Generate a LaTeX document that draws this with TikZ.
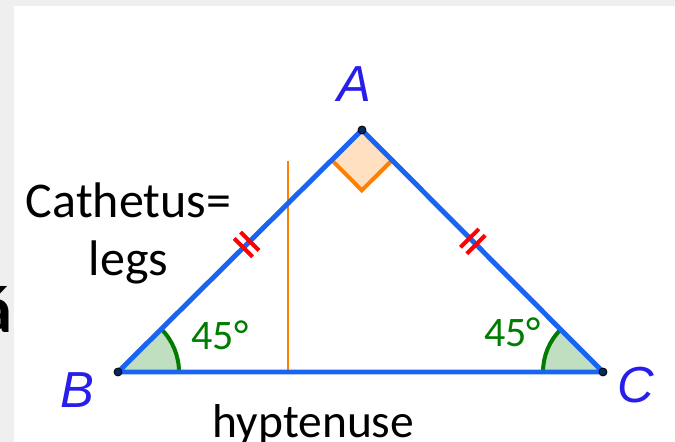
\documentclass[tikz,border=0pt]{standalone}
\usepackage{fontspec}
\setmainfont{Carlito}
\newfontfamily\geofont{Liberation Sans}
\definecolor{legBlue}{RGB}{25,100,240}
\definecolor{labelBlue}{RGB}{40,30,235}
\definecolor{angGreen}{RGB}{0,125,0}
\definecolor{angFill}{RGB}{192,222,192}
\definecolor{rightOrange}{RGB}{255,128,0}
\definecolor{rightFill}{RGB}{255,224,192}
\definecolor{frameGray}{RGB}{239,239,239}
\usetikzlibrary{calc}

\begin{document}
\begin{tikzpicture}[
      x=0.75pt, y=0.75pt,
      every node/.style={inner sep=0pt, outer sep=0pt},
      side/.style={draw=legBlue, line width=3.7pt, line join=round},
      pt/.style={circle, draw=black, fill=legBlue!40!black, line width=0.6pt, minimum size=6pt},
      vlabel/.style={font=\geofont\itshape\fontsize{38}{40}\selectfont, text=labelBlue, anchor=base},
      angfill/.style={fill=angFill},
      angline/.style={draw=angGreen, line width=3pt},
      anglabel/.style={font=\fontsize{31.5}{33}\selectfont, text=angGreen, anchor=base},
      rightbox/.style={draw=rightOrange, fill=rightFill, line width=3pt, line join=miter},
      tickmark/.style={draw=red, line width=3pt},
      note/.style={font=\fontsize{37.5}{43.5}\selectfont, align=center, anchor=base},
      guide/.style={draw=rightOrange, line width=1.1pt}
    ]
      % Frame: gray margin, white sheet
      \fill[frameGray] (0,0) rectangle (675,442);
      \fill[white] (14,0) rectangle (675,436);
      \useasboundingbox (0,0) rectangle (675,442);
      \begin{scope}
        \clip (0,0) rectangle (675,442);
        \node[font=\bfseries\fontsize{50}{52}\selectfont, anchor=base east] (cut) at (12,109) {á};
      \end{scope}

      % Vertices
      \coordinate (A) at (362,312);
      \coordinate (B) at (118,70);
      \coordinate (C) at (603,70);

      % Angle marks
      \fill[angfill] (B) -- ++(0:61) arc[start angle=0, end angle=44.8, radius=61] -- cycle;
      \draw[angline] ($(B)+(0:61)$) arc[start angle=0, end angle=44.8, radius=61];
      \fill[angfill] (C) -- ++(180:60) arc[start angle=180, end angle=134.9, radius=60] -- cycle;
      \draw[angline] ($(C)+(180:60)$) arc[start angle=180, end angle=134.9, radius=60];
      \coordinate (rB) at ($(A)!32pt!(B)$);
      \coordinate (rC) at ($(A)!32pt!(C)$);
      \fill[rightFill] (A) -- (rB) -- ($(rB)+(rC)-(A)$) -- (rC) -- cycle;
      \draw[rightbox, fill=none] (rB) -- ($(rB)+(rC)-(A)$) -- (rC);

      % Orange guide line
      \coordinate (g1) at (288,281);
      \coordinate (g2) at (288,70);
      \draw[guide] (g1) -- (g2);

      % Triangle
      \draw[side] (A) -- (B) -- (C) -- cycle;

      % Equal-leg ticks
      \begin{scope}[shift={($(B)!0.527!(A)$)}, rotate=44.8]
        \draw[tickmark] (-4.5,-13) -- (-4.5,13) (4.5,-13) -- (4.5,13);
      \end{scope}
      \begin{scope}[shift={($(C)!0.54!(A)$)}, rotate=-45.1]
        \draw[tickmark] (-4.5,-13) -- (-4.5,13) (4.5,-13) -- (4.5,13);
      \end{scope}

      % Points
      \node[pt] (ptA) at (A) {};
      \node[pt] (ptB) at (B) {};
      \node[pt] (ptC) at (C) {};

      % Labels
      \node[vlabel] (labA) at (354,340) {A};
      \node[vlabel] (labB) at (77.5,34) {B};
      \node[vlabel] (labC) at (636,39) {C};
      \node[anglabel] (angB) at (220,92) {45°};
      \node[anglabel] (angC) at (512.5,95) {45°};
      \node[note] (legs) at (128.5,166) {Cathetus=\\legs};
      \node[note, font=\fontsize{35.6}{40}\selectfont] (hyp) at (313.5,4) {hyptenuse};
    \end{tikzpicture}
\end{document}
